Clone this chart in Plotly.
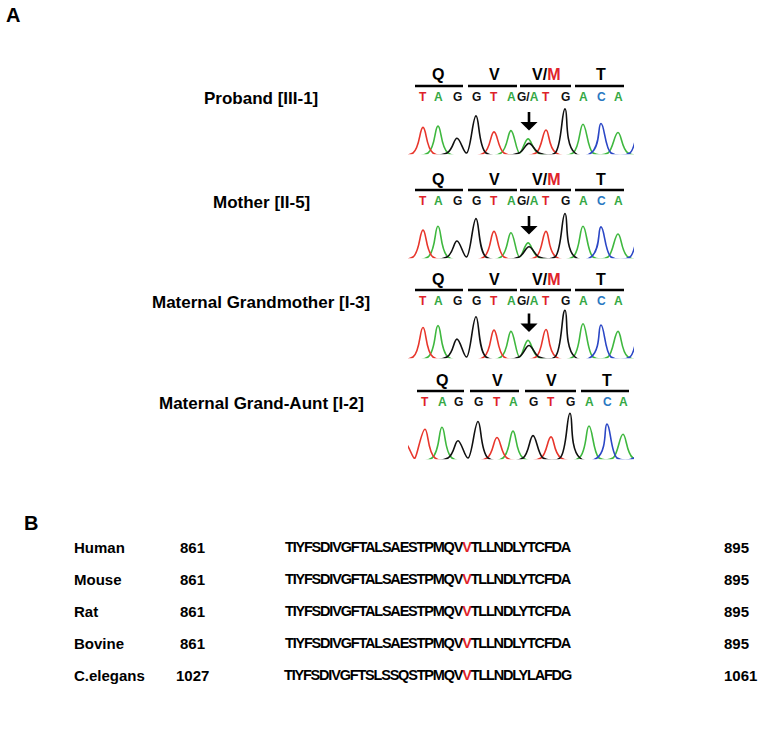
import plotly.graph_objects as go

W, H = 764, 733

# ---------------- panel A: sequencing traces ----------------
SAMPLES = ["Proband [III-1]", "Mother [II-5]", "Maternal Grandmother [I-3]", "Maternal Grand-Aunt [I-2]"]
CODONS_HET = ["Q", "V", "V/M", "T"]
CODONS_WT = ["Q", "V", "V", "T"]
CALLS_HET = ["T", "A", "G", "G", "T", "A", "G/A", "T", "G", "A", "C", "A"]
CALLS_WT = ["T", "A", "G", "G", "T", "A", "G", "T", "G", "A", "C", "A"]
CALL_POS_HET = [13, 28, 47, 66, 84, 101, 118, 136, 155, 173, 191, 208]
CALL_POS_WT = [15, 32, 48, 68, 87, 103, 123, 141, 160, 179, 197, 213]

# peaks: scan position, channel, height
PROBAND_POS = [13, 28, 47, 66, 84, 101, 118, 119, 136, 155, 173, 191, 208, 230]
PROBAND_BASE = ["T", "A", "G", "G", "T", "A", "A", "G", "T", "G", "A", "C", "A", "C"]
PROBAND_HT = [40, 42, 23, 58, 33, 35, 22, 15, 36, 69, 45, 46, 32, 44]

MOTHER_POS = [13, 28, 47, 66, 84, 101, 118, 119, 136, 155, 173, 191, 208, 230]
MOTHER_BASE = ["T", "A", "G", "G", "T", "A", "A", "G", "T", "G", "A", "C", "A", "C"]
MOTHER_HT = [42, 48, 25, 60, 40, 38, 22, 16, 40, 68, 48, 47, 36, 44]

GRANDMOTHER_POS = [13, 28, 47, 66, 84, 101, 118, 119, 136, 155, 173, 191, 208, 230]
GRANDMOTHER_BASE = ["T", "A", "G", "G", "T", "A", "A", "G", "T", "G", "A", "C", "A", "C"]
GRANDMOTHER_HT = [46, 49, 28, 63, 42, 40, 26, 18, 43, 73, 52, 50, 40, 46]

AUNT_POS = [-6, 15, 32, 48, 68, 87, 103, 123, 141, 160, 179, 197, 213, 234]
AUNT_BASE = ["T", "T", "A", "G", "G", "T", "A", "G", "T", "G", "A", "C", "A", "C"]
AUNT_HT = [26, 45, 48, 27, 57, 32, 42, 35, 33, 70, 50, 53, 37, 40]

# ---------------- panel B: alignment ----------------
SPECIES = ["Human", "Mouse", "Rat", "Bovine", "C.elegans"]
SEQ_START = ["861", "861", "861", "861", "1027"]
SEQ_END = ["895", "895", "895", "895", "1061"]
SEQS = ["TIYFSDIVGFTALSAESTPMQVVTLLNDLYTCFDA"] * 4 + ["TIYFSDIVGFTSLSSQSTPMQVVTLLNDLYLAFDG"]
VAR_IDX = 22

TRACE_COL = {"A": "#3fb83f", "C": "#2b47c6", "G": "#111111", "T": "#e8362c"}
TEXT_COL = {"A": "#35a845", "C": "#2a78c2", "G": "#111111", "T": "#dd2229"}
RED = "#e0232a"
FONT = "Liberation Sans, Arial, sans-serif"

HALF = 10                      # half width of a peak at its foot, scan units
X_MIN, X_MAX = -2, 224
TOPS = [75, 179, 279, 380]     # pixel row of the codon letters of each trace
BASE_OFF = 78                  # baseline of the trace below the codon row
PX_PER_UNIT = 0.64


def px(x):
    return x / W


def py(y):
    return 1 - y / H


def channel(pos, base, ht, ch):
    peaks = sorted((p, h) for p, b, h in zip(pos, base, ht) if b == ch)
    xs, ys = [-40], [0]
    for p, h in peaks:
        if p - HALF <= xs[-1]:
            xs[-1] = (xs[-2] + p) / 2
        else:
            xs.append(p - HALF)
            ys.append(0)
        xs += [p, p + HALF]
        ys += [h, 0]
    xs.append(270)
    ys.append(0)
    return xs, ys


fig = go.Figure()
annotations = []
shapes = []


def label(x, y, text, size, anchor="center", color="black", **kw):
    annotations.append(dict(x=x, y=y, text=text, showarrow=False, xanchor=anchor,
                            yanchor="middle", font=dict(family=FONT, size=size, color=color), **kw))


traces = [
    (PROBAND_POS, PROBAND_BASE, PROBAND_HT),
    (MOTHER_POS, MOTHER_BASE, MOTHER_HT),
    (GRANDMOTHER_POS, GRANDMOTHER_BASE, GRANDMOTHER_HT),
    (AUNT_POS, AUNT_BASE, AUNT_HT),
]

for i, (pos, base, ht) in enumerate(traces):
    k = i + 1
    xa, ya = f"x{k}", f"y{k}"
    top = TOPS[i]
    base_px = top + BASE_OFF
    for ch in ["A", "C", "T", "G"]:
        xs, ys = channel(pos, base, ht, ch)
        fig.add_trace(go.Scatter(
            x=xs, y=ys, mode="lines", xaxis=xa, yaxis=ya,
            line=dict(color=TRACE_COL[ch], width=1.6, shape="spline", smoothing=1.0),
            hoverinfo="skip", showlegend=False,
        ))
    fig.layout[f"xaxis{k}"] = dict(domain=[px(408), px(634)], range=[X_MIN, X_MAX],
                                   visible=False, anchor=ya, fixedrange=True)
    fig.layout[f"yaxis{k}"] = dict(domain=[py(base_px + 2 * PX_PER_UNIT), py(base_px - 76 * PX_PER_UNIT)],
                                   range=[-2, 76], visible=False, anchor=xa, fixedrange=True)

    het = i < 3
    calls = CALLS_HET if het else CALLS_WT
    cpos = CALL_POS_HET if het else CALL_POS_WT
    codons = CODONS_HET if het else CODONS_WT

    # base calls
    for c, p in zip(calls, cpos):
        if c == "G/A":
            txt = "<b>G/<span style='color:%s'>A</span></b>" % TEXT_COL["A"]
            col = TEXT_COL["G"]
        else:
            txt = "<b>%s</b>" % c
            col = TEXT_COL[c]
        label(p, py(top + 22), txt, 12, color=col, xref=xa, yref="paper")

    # codons with bars
    for j, aa in enumerate(codons):
        first, mid, last = cpos[3 * j], cpos[3 * j + 1], cpos[3 * j + 2]
        if aa == "V/M":
            txt = "<b>V/<span style='color:%s'>M</span></b>" % RED
        else:
            txt = "<b>%s</b>" % aa
        label(mid, py(top), txt, 16, xref=xa, yref="paper")
        shapes.append(dict(type="line", xref=xa, yref="paper", x0=first - 8, x1=last + 6,
                           y0=py(top + 11), y1=py(top + 11),
                           line=dict(color="black", width=2.5)))

    # arrow over the heterozygous peak
    if het:
        hp = cpos[6]
        hh = max(h for p, b, h in zip(pos, base, ht) if p in (hp, hp + 1) and b == "A")
        annotations.append(dict(x=hp + 1, y=hh + 13, xref=xa, yref=ya, text="",
                                showarrow=True, arrowhead=1, arrowsize=1.1, arrowwidth=2.6,
                                arrowcolor="black", ax=0, ay=-20))

    # sample label
    label(px(261), py(top + 23), "<b>%s</b>" % SAMPLES[i], 17, xref="paper", yref="paper")

# panel letters
label(px(13), py(15), "<b>A</b>", 20, xref="paper", yref="paper")
label(px(31), py(523), "<b>B</b>", 20, xref="paper", yref="paper")

ROWS = [547, 579, 611, 643, 675]
for r, (sp, s0, seq, s1) in enumerate(zip(SPECIES, SEQ_START, SEQS, SEQ_END)):
    y = py(ROWS[r])
    label(px(72), y, "<b>%s</b>" % sp, 15, anchor="left", xref="paper", yref="paper")
    label(px(192), y, "<b>%s</b>" % s0, 15, xref="paper", yref="paper")
    seq_txt = ("<span style='letter-spacing:-1.2px'><b>%s<span style='color:%s'>%s</span>%s</b></span>"
               % (seq[:VAR_IDX], RED, seq[VAR_IDX], seq[VAR_IDX + 1:]))
    label(px(428), y, seq_txt, 14.5, xref="paper", yref="paper")
    label(px(722), y, "<b>%s</b>" % s1, 15, anchor="left", xref="paper", yref="paper")

fig.update_layout(
    width=W, height=H,
    margin=dict(l=0, r=0, t=0, b=0),
    paper_bgcolor="white", plot_bgcolor="white",
    annotations=annotations, shapes=shapes,
    showlegend=False,
)

fig.write_html("out.html", config={"displayModeBar": False},
               post_script="document.body.style.margin='0';")
